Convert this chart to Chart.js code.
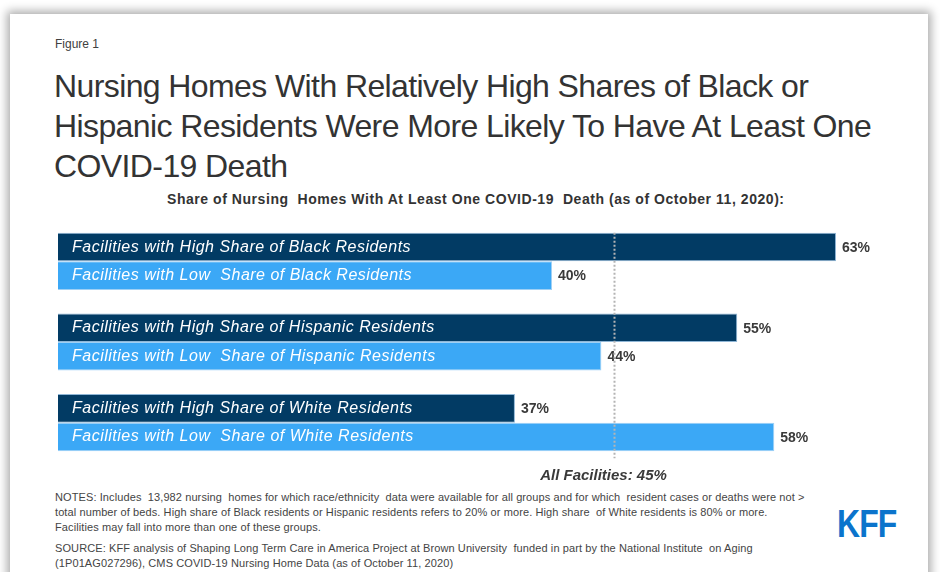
<!DOCTYPE html>
<html>
<head>
<meta charset="utf-8">
<script src="https://cdn.jsdelivr.net/npm/chart.js@4.4.0/dist/chart.umd.min.js"></script>
<style>
  html, body { margin: 0; padding: 0; background: #fff; }
  body { width: 940px; height: 572px; position: relative; overflow: hidden; font-family: "Liberation Sans", Arial, sans-serif; color: #333; }
  .card { position: absolute; left: 10px; top: 14px; width: 918px; height: 600px; background: #fff; box-shadow: 0 0 9px 3px rgba(0,0,0,0.33); }
  .txt { position: absolute; white-space: nowrap; }
  #fig { left: 55px; top: 37px; font-size: 12px; color: #404040; }
  #title { left: 54px; top: 66px; font-size: 32px; line-height: 40px; color: #333; letter-spacing: -0.6px; }
  #sub { left: 167px; top: 191px; font-size: 14px; font-weight: bold; color: #333; letter-spacing: 0.55px; }
  .notes { left: 55px; font-size: 11px; line-height: 15px; color: #444; letter-spacing: 0.1px; }
  #notes { top: 490px; }
  #source { top: 541px; }
  #logo { left: 837px; top: 503px; font-size: 38px; font-weight: bold; color: #0b74cc; transform: scaleX(0.84); transform-origin: left top; letter-spacing: -1px; }
  #wrap { position: absolute; left: 0; top: 0; width: 940px; height: 572px; }
</style>
</head>
<body>
<div class="card"></div>
<div class="txt" id="fig">Figure 1</div>
<div class="txt" id="title">Nursing Homes With Relatively High Shares of Black or<br>Hispanic Residents Were More Likely To Have At Least One<br>COVID-19 Death</div>
<div class="txt" id="sub">Share of Nursing&nbsp; Homes With At Least One COVID-19&nbsp; Death (as of October 11, 2020):</div>
<div class="txt notes" id="notes">NOTES: Includes&nbsp; 13,982 nursing&nbsp; homes for which race/ethnicity&nbsp; data were available for all groups and for which&nbsp; resident cases or deaths were not &gt;<br>total number of beds. High share of Black residents or Hispanic residents refers to 20% or more. High share&nbsp; of White residents is 80% or more.<br>Facilities may fall into more than one of these groups.</div>
<div class="txt notes" id="source">SOURCE: KFF analysis of Shaping Long Term Care in America Project at Brown University&nbsp; funded in part by the National Institute&nbsp; on Aging<br>(1P01AG027296), CMS COVID-19 Nursing Home Data (as of October 11, 2020)</div>
<div class="txt" id="logo">KFF</div>
<div id="wrap"><canvas id="chart"></canvas></div>

<script>
// groups (one pair of bars each)
let groups = ["Black", "Hispanic", "White"];
let highLabels = ["Facilities with High Share of Black Residents",
                  "Facilities with High Share of Hispanic Residents",
                  "Facilities with High Share of White Residents"];
let lowLabels = ["Facilities with Low  Share of Black Residents",
                 "Facilities with Low  Share of Hispanic Residents",
                 "Facilities with Low  Share of White Residents"];
let highShare = [63, 55, 37];
let lowShare = [40, 44, 58];
let allFacilities = 45;

let barText = {
  id: "barText",
  afterDatasetsDraw(chart) {
    let ctx = chart.ctx;
    let x = chart.scales.x;
    let inner = [highLabels, lowLabels];
    ctx.save();
    chart.data.datasets.forEach((ds, d) => {
      let meta = chart.getDatasetMeta(d);
      meta.data.forEach((bar, i) => {
        ctx.textBaseline = "middle";
        ctx.textAlign = "left";
        ctx.fillStyle = "#fff";
        ctx.font = "italic 16px 'Liberation Sans', Arial, sans-serif";
        ctx.letterSpacing = "0.5px";
        ctx.fillText(inner[d][i], bar.base + 14, bar.y);
        ctx.letterSpacing = "0px";
        ctx.fillStyle = "#3a3a3a";
        ctx.font = "bold 14px 'Liberation Sans', Arial, sans-serif";
        ctx.fillText(ds.data[i] + "%", bar.x + 6, bar.y + 1);
      });
    });

    // average line
    let first = chart.getDatasetMeta(0).data[0];
    let last = chart.getDatasetMeta(1).data[groups.length - 1];
    let px = Math.round(x.getPixelForValue(allFacilities)) + 0.5;
    ctx.strokeStyle = "#b4b4b4";
    ctx.lineWidth = 2;
    ctx.setLineDash([2, 2]);
    ctx.beginPath();
    ctx.moveTo(px, first.y - first.height / 2);
    ctx.lineTo(px, last.y + last.height / 2 + 7);
    ctx.stroke();
    ctx.setLineDash([]);
    ctx.fillStyle = "#3a3a3a";
    ctx.font = "italic bold 15px 'Liberation Sans', Arial, sans-serif";
    ctx.textAlign = "center";
    ctx.textBaseline = "alphabetic";
    ctx.fillText("All Facilities: " + allFacilities + "%", px - 11, 480);
    ctx.restore();
  }
};

new Chart(document.getElementById("chart"), {
  type: "bar",
  data: {
    labels: groups,
    datasets: [{
      label: "High share",
      data: highShare,
      backgroundColor: "#023b64",
      borderColor: "#8fb6d6",
      borderWidth: 1,
      categoryPercentage: 0.708,
      barPercentage: 1
    }, {
      label: "Low share",
      data: lowShare,
      backgroundColor: "#3ba8f6",
      borderColor: "#9fd0f5",
      borderWidth: 1,
      categoryPercentage: 0.708,
      barPercentage: 1
    }]
  },
  options: {
    indexAxis: "y",
    responsive: true,
    maintainAspectRatio: false,
    animation: false,
    layout: { padding: { left: 58, right: 17.5, top: 221, bottom: 109 } },
    scales: {
      x: { display: false, min: 0, max: 70 },
      y: { display: false }
    },
    plugins: {
      legend: { display: false },
      tooltip: { enabled: false }
    }
  },
  plugins: [barText]
});
</script>
</body>
</html>
